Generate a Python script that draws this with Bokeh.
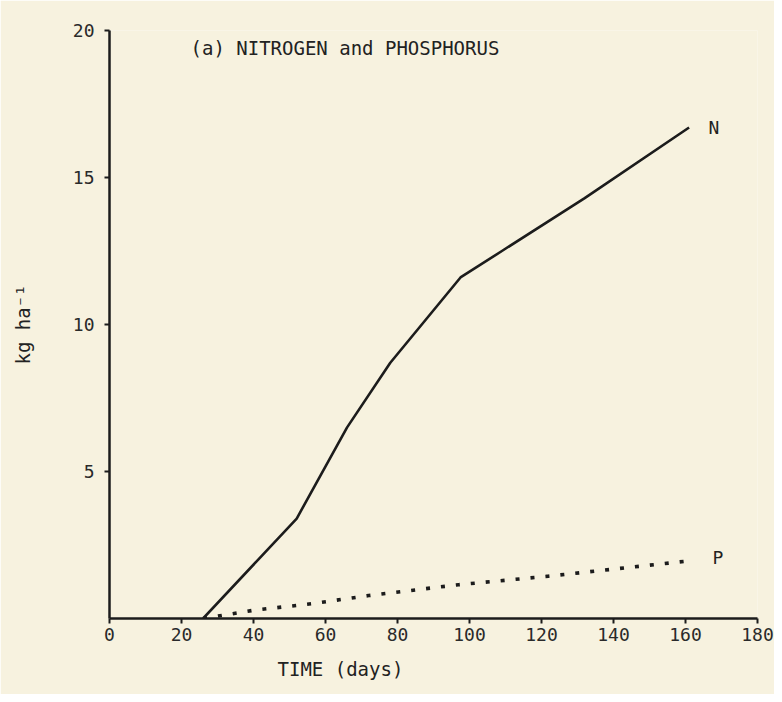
from bokeh.plotting import figure
from bokeh.models import Range1d, FixedTicker, Label, Title
from bokeh.embed import file_html
from bokeh.resources import INLINE

# ---- data ----
days_n = [26, 52, 66, 78, 97.5, 109, 132, 161]
nitrogen = [0, 3.4, 6.5, 8.7, 11.6, 12.5, 14.3, 16.7]

days_p = [26, 40, 56, 72, 97, 122, 161]
phosphorus = [0, 0.28, 0.5, 0.78, 1.15, 1.44, 1.96]

x_ticks = [0, 20, 40, 60, 80, 100, 120, 140, 160, 180]
y_ticks = [5, 10, 15, 20]

title_text = "(a) NITROGEN and PHOSPHORUS"
x_label = "TIME (days)"
y_label = "kg ha\u207b\u00b9"

BG = "#f7f2df"
INK = "#1c1c1c"
FONT = "DejaVu Sans Mono"

p = figure(width=774, height=694,
           x_range=Range1d(0, 180), y_range=Range1d(0, 20),
           output_backend="svg", toolbar_location=None,
           min_border_left=109, min_border_right=17,
           min_border_top=30, min_border_bottom=76)

p.background_fill_color = BG
p.border_fill_color = BG
p.outline_line_color = None
p.xgrid.visible = False
p.ygrid.visible = False

for ax in (p.xaxis[0], p.yaxis[0]):
    ax.axis_line_width = 2.5
    ax.axis_line_color = INK
    ax.major_tick_line_color = INK
    ax.major_tick_line_width = 2
    ax.major_tick_out = 5
    ax.major_tick_in = 0
    ax.minor_tick_line_color = None
    ax.major_label_text_font = FONT
    ax.major_label_text_font_size = "18px"
    ax.major_label_text_color = "#2a2a2a"

p.xaxis.ticker = FixedTicker(ticks=x_ticks)
p.yaxis.ticker = FixedTicker(ticks=y_ticks)
p.xaxis.major_label_standoff = 4
p.yaxis.major_label_standoff = 10

p.yaxis.axis_label = y_label
p.yaxis.axis_label_text_font = FONT
p.yaxis.axis_label_text_font_size = "19px"
p.yaxis.axis_label_text_font_style = "normal"
p.yaxis.axis_label_text_color = "#222222"
p.yaxis.axis_label_standoff = 36

# x-axis caption, placed left of centre as in the reference
p.add_layout(Title(text=x_label, align="left", offset=168,
                   text_font=FONT, text_font_size="19px",
                   text_font_style="normal", text_color="#222222",
                   standoff=24), "below")

# N curve
p.line(days_n, nitrogen, line_color=INK, line_width=2.6)
# P curve (dotted)
p.line(days_p, phosphorus, line_color=INK, line_width=3.6,
       line_dash="4 11", line_cap="butt")

def lab(x, y, text, size="19px", align="left"):
    p.add_layout(Label(x=x, y=y, text=text, text_font=FONT,
                       text_font_size=size, text_color="#222222",
                       text_align=align, text_baseline="middle"))

lab(22.5, 19.4, title_text, "19px")
lab(166.4, 16.7, "N", "18px")
lab(167.5, 2.07, "P", "18px")

open("out.html", "w").write(file_html(p, INLINE))
